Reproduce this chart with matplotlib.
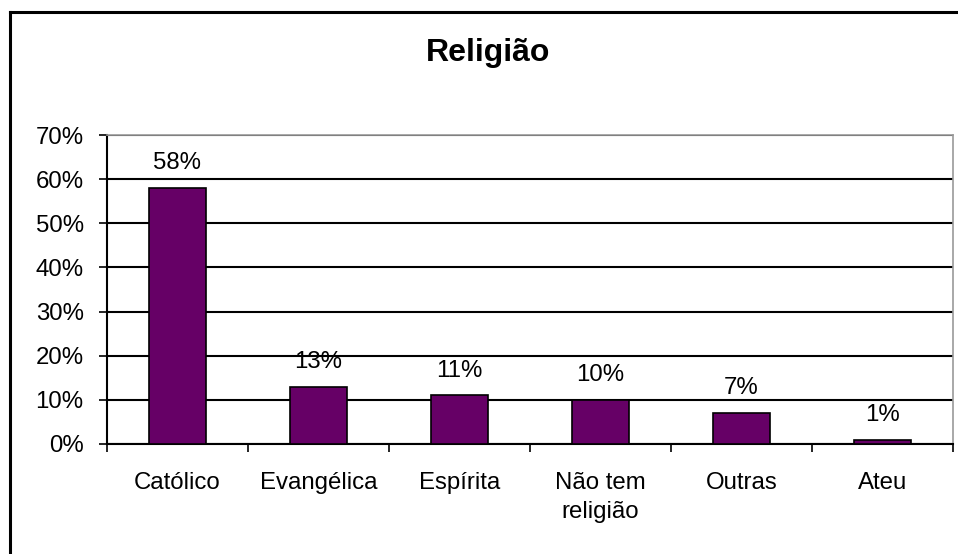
import matplotlib.pyplot as plt
from matplotlib.lines import Line2D
from matplotlib.ticker import FuncFormatter, MultipleLocator

categories = ["Católico", "Evangélica", "Espírita", "Não tem\nreligião", "Outras", "Ateu"]
values = [58, 13, 11, 10, 7, 1]
labels = ["58%", "13%", "11%", "10%", "7%", "1%"]

plt.rcParams['font.family'] = ['Liberation Sans', 'DejaVu Sans']

fig = plt.figure(figsize=(9.58, 5.54), dpi=100)
ax = fig.add_axes([107 / 958, 1 - 444 / 554, 846 / 958, 309 / 554])

x = list(range(len(categories)))
ax.bar(x, values, width=0.41, color="#660066", edgecolor="black", linewidth=1.2, zorder=3)

for xi, v, lab in zip(x, values, labels):
    ax.annotate(lab, (xi, v), xytext=(0, 13.5), textcoords="offset points",
                ha="center", va="baseline", fontsize=17.3)

ax.set_xlim(-0.5, len(categories) - 0.5)
ax.set_ylim(0, 70)
ax.yaxis.set_major_locator(MultipleLocator(10))
ax.yaxis.set_major_formatter(FuncFormatter(lambda v, p: f"{v:.0f}%"))
ax.yaxis.grid(True, color="black", linewidth=1.5, zorder=0)

ax.set_xticks([i + 0.5 for i in range(-1, len(categories))], minor=False)
ax.set_xticklabels([])
ax.set_xticks(x, minor=True)
ax.set_xticklabels(categories, minor=True, fontsize=17.3, linespacing=1.45)
ax.tick_params(axis="x", which="major", direction="out", length=5.5, width=1.2)
ax.tick_params(axis="x", which="minor", length=0, pad=20)
ax.tick_params(axis="y", direction="out", length=5.8, width=1.2, labelsize=17.3, pad=11)

for s in ["top", "right"]:
    ax.spines[s].set_color("#9a9a9a")
    ax.spines[s].set_linewidth(1.2)
for s in ["left", "bottom"]:
    ax.spines[s].set_color("black")
    ax.spines[s].set_linewidth(1.5)

fig.text(488 / 958, 1 - 53 / 554, "Religião", ha="center", va="center",
         fontsize=23, fontweight="bold")

# chart border (only top and left visible in the crop)
fig.add_artist(Line2D([10 / 958, 10 / 958], [0, 1 - 12 / 554], color="black",
                      linewidth=2.2, transform=fig.transFigure))
fig.add_artist(Line2D([10 / 958, 1], [1 - 12 / 554, 1 - 12 / 554], color="black",
                      linewidth=2.2, transform=fig.transFigure))

fig.savefig("out.png", dpi=100)
